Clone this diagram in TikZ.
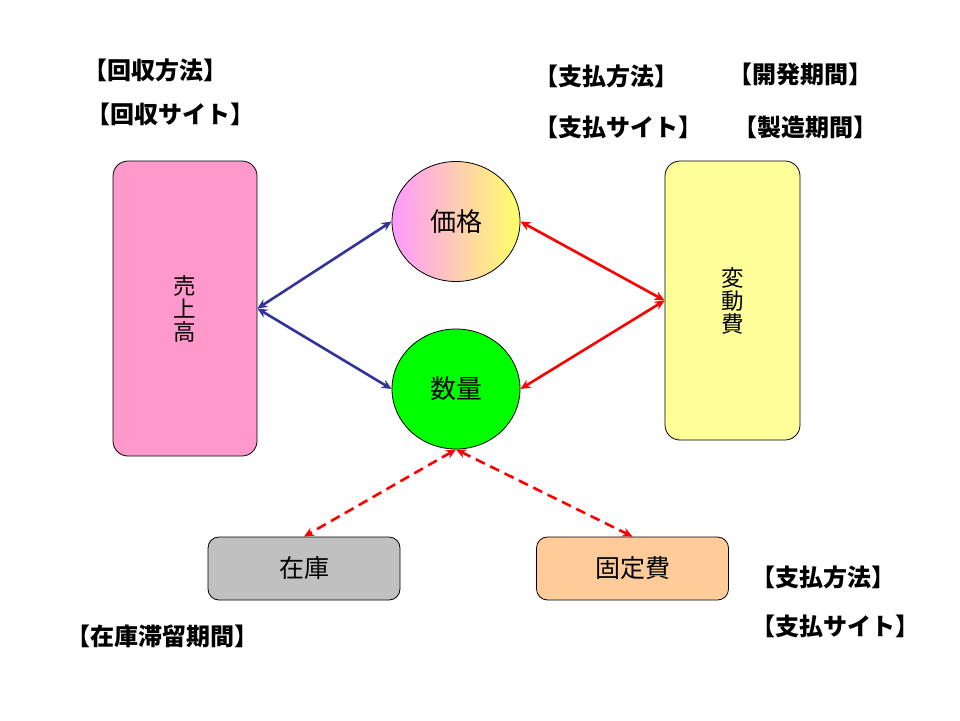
\documentclass[tikz,border=0pt]{standalone}
\usepackage{fontspec}
\setmainfont{Noto Sans CJK JP}
\usetikzlibrary{shapes.geometric,arrows.meta}
\definecolor{bpink}{HTML}{FF99CC}
\definecolor{byellow}{HTML}{FFFF99}
\definecolor{bgray}{HTML}{C0C0C0}
\definecolor{borange}{HTML}{FFCC99}
\definecolor{cgreen}{HTML}{00FF00}
\definecolor{gpink}{HTML}{FF99FF}
\definecolor{gyellow}{HTML}{FFFF66}
\definecolor{ablue}{HTML}{333399}
\definecolor{ared}{HTML}{FF0000}
\tikzset{
  bigbox/.style={draw=black, line width=0.8pt, rounded corners=15pt, inner sep=0pt, align=center, font=\fontsize{22.5}{23}\selectfont},
  smallbox/.style={draw=black, line width=0.8pt, rounded corners=11pt, minimum width=192pt, minimum height=63pt, inner sep=0pt, font=\fontsize{25}{29}\selectfont},
  circ/.style={ellipse, draw=black, line width=0.8pt, minimum width=128pt, minimum height=120pt, inner sep=0pt, font=\fontsize{26}{30}\selectfont},
  lbl/.style={anchor=west, inner sep=0pt, font=\bfseries\fontsize{24}{28}\selectfont},
  barrow/.style={draw=ablue, line width=2.6pt, {Stealth[length=10pt,width=9pt]}-{Stealth[length=10pt,width=9pt]}},
  rarrow/.style={draw=ared, line width=2.6pt, {Stealth[length=10pt,width=9pt]}-{Stealth[length=10pt,width=9pt]}},
  rdash/.style={rarrow, dash pattern=on 10pt off 6pt}
}
\begin{document}
\begin{tikzpicture}[x=1pt,y=-1pt]
\useasboundingbox (0,0) rectangle (960,720);
\fill[white] (0,0) rectangle (960,720);
% boxes
\node[bigbox, fill=bpink, minimum width=144pt, minimum height=295pt] (uri) at (185,308.5) {売\\上\\高};
\node[bigbox, fill=byellow, minimum width=135pt, minimum height=279pt] (hendo) at (732.5,300.5) {変\\動\\費};
\node[circ, left color=gpink, right color=gyellow] (kakaku) at (456,221.5) {価格};
\node[circ, fill=cgreen] (suryo) at (456,389) {数量};
\node[smallbox, fill=bgray] (zaiko) at (304,568.5) {在庫};
\node[smallbox, fill=borange] (kotei) at (632.5,568.5) {固定費};
% connectors
\draw[barrow] (uri.east) -- (kakaku.west);
\draw[barrow] (uri.east) -- (suryo.west);
\draw[rarrow] (kakaku.east) -- (hendo.west);
\draw[rarrow] (hendo.west) -- (suryo.east);
\draw[rdash] (suryo.south) -- (zaiko.north);
\draw[rdash] (suryo.south) -- (kotei.north);
% labels
\node[lbl] (l1) at (83,70) {【回収方法】};
\node[lbl] (l2) at (86,114) {【回収サイト】};
\node[lbl] (l3) at (534,76) {【支払方法】};
\node[lbl] (l4) at (534,127) {【支払サイト】};
\node[lbl] (l5) at (728,74) {【開発期間】};
\node[lbl] (l6) at (733,127) {【製造期間】};
\node[lbl] (l7) at (751,577) {【支払方法】};
\node[lbl] (l8) at (751,626) {【支払サイト】};
\node[lbl] (l9) at (66,636) {【在庫滞留期間】};
\end{tikzpicture}
\end{document}
